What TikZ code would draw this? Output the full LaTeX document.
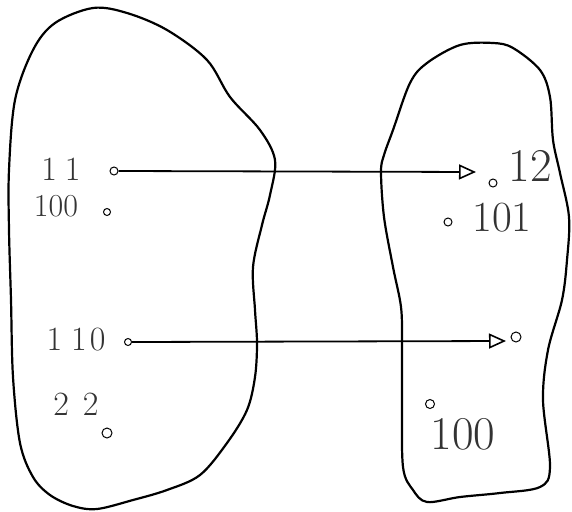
\documentclass[tikz,border=0pt]{standalone}
\usepackage{fontspec}
\usepackage{tikz}
\usetikzlibrary{positioning,arrows.meta}

\begin{document}
\begin{tikzpicture}[x=1pt, y=-1pt,
  blob/.style={draw, line width=2.2pt, line join=round},
  pt/.style={circle, draw, line width=1pt, inner sep=0pt, minimum size=8pt},
  lbl/.style={text=black!80, inner sep=0pt},
  arr/.style={-{Triangle[open, length=17pt, width=15pt, line width=1.6pt]}, line width=1.8pt}]
\useasboundingbox (0,0) rectangle (572,511);
% the two sets
\draw[blob] plot[smooth cycle, tension=0.55] coordinates {(93,8) (127,13) (167,30) (207,60) (230,97) (260,130) (275,160) (270,195) (262,225) (253,267) (255,310) (257,343) (255,377) (247,410) (227,443) (200,475) (167,490) (133,500) (97,509) (73,506) (50,495) (33,477) (20,443) (13,377) (11,300) (9,230) (9,170) (15,100) (33,50) (55,23)};
\draw[blob] plot[smooth cycle, tension=0.55] coordinates {(460,45) (493,43) (513,48) (540,70) (550,97) (553,140) (560,173) (569,217) (567,260) (562,300) (548,350) (543,400) (550,467) (540,487) (500,493) (460,497) (427,502) (413,490) (403,467) (402,400) (402,343) (401,307) (393,267) (384,217) (381,172) (384,155) (393,130) (410,83) (427,63)};
% left set
\node[lbl, font=\fontsize{34}{36}\selectfont]  (l11)  at (61,169)  {1\kern8pt1};
\node[pt]                                     (p11)  at (114,171) {};
\node[lbl, font=\fontsize{32}{34}\selectfont]  (l100) at (56,206)  {100};
\node[pt, minimum size=7pt]                    (p100) at (107,212) {};
\node[lbl, font=\fontsize{34}{36}\selectfont]  (l110) at (76,340)  {1\kern9pt1\kern3pt0};
\node[pt, minimum size=7pt]                    (p110) at (128,342) {};
\node[lbl, font=\fontsize{34}{36}\selectfont]  (l22)  at (76,404)  {2\kern14pt2};
\node[pt, minimum size=10pt]                   (p22)  at (107,433) {};
% right set
\node[pt]                                     (p12)  at (493,183) {};
\node[lbl, font=\fontsize{47}{50}\selectfont]  (l12)  at (530,166) {12};
\node[pt]                                     (p101) at (448,222) {};
\node[lbl, font=\fontsize{43}{45}\selectfont]  (l101) at (502,218) {101};
\node[pt, minimum size=10pt]                   (pq)   at (516,337) {};
\node[pt, minimum size=9pt]                    (p100r) at (430,404) {};
\node[lbl, font=\fontsize{47}{49}\selectfont]  (l100r) at (463,434) {100};
% arrows
\coordinate (tip11)  at (476,172);
\coordinate (tip110) at (506,341);
\draw[arr] (p11.east) -- (tip11);
\draw[arr] (p110.east) -- (tip110);
\end{tikzpicture}
\end{document}
